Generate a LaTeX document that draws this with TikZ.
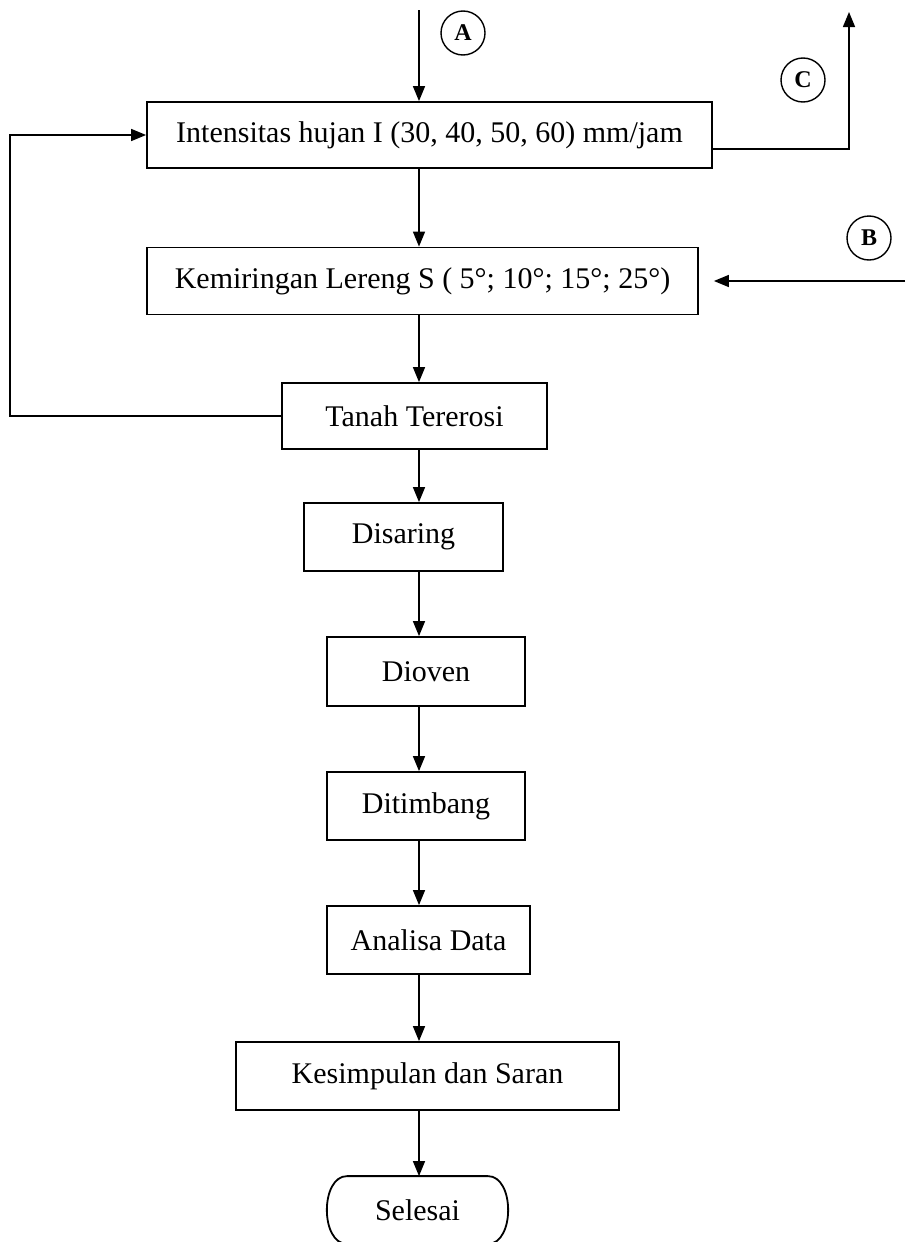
\documentclass[tikz,border=0pt]{standalone}
\usepackage{fontspec}
\setmainfont{Liberation Serif}
\usetikzlibrary{arrows.meta}

\begin{document}
\begin{tikzpicture}[x=1pt,y=-1pt,
    >={Triangle[length=15pt,width=12pt]},
    box/.style={draw,line width=1.8pt,inner sep=0pt,font=\fontsize{30}{36}\selectfont},
    term/.style={box,draw=none},
    letter/.style={draw,circle,line width=1.4pt,minimum size=44pt,inner sep=0pt,font=\fontsize{24}{28}\selectfont\bfseries},
    flow/.style={->,line width=1.5pt}]
    \useasboundingbox (0,0) rectangle (905,1242);
    % axis of the arrows and free ends
    \coordinate (ax) at (419,0);
    \coordinate (inA) at (419,10);
    \coordinate (outC) at (849,12);
    \coordinate (inB) at (905,281);
    \coordinate (fb) at (10,0);
    % boxes
    \node[box,minimum width=565pt,minimum height=66pt] (intensitas) at (429.5,135) {Intensitas hujan I (30, 40, 50, 60) mm/jam};
    \node[box,minimum width=551pt,minimum height=67pt] (lereng) at (422.5,281) {Kemiringan Lereng S ( 5°; 10°; 15°; 25°)};
    \node[box,minimum width=265pt,minimum height=66pt] (tanah) at (414.5,416) {Tanah Tererosi};
    \node[box,minimum width=199pt,minimum height=68pt] (saring) at (403.5,537) {Disaring};
    \node[box,minimum width=198pt,minimum height=69pt] (oven) at (426,671.5) {Dioven};
    \node[box,minimum width=198pt,minimum height=68pt] (timbang) at (426,806) {Ditimbang};
    \node[box,minimum width=203pt,minimum height=68pt] (analisa) at (428.5,940) {Analisa Data};
    \node[box,minimum width=383pt,minimum height=68pt] (simpul) at (427.5,1076) {Kesimpulan dan Saran};
    \node[term,minimum width=179pt,minimum height=66pt] (selesai) at (417.5,1210) {Selesai};
    % terminator outline with curved ends
    \draw[line width=1.8pt] ([xshift=20pt]selesai.north west) -- ([xshift=-20pt]selesai.north east)
        .. controls ([xshift=7pt]selesai.north east) and ([xshift=7pt]selesai.south east) .. ([xshift=-20pt]selesai.south east)
        -- ([xshift=20pt]selesai.south west)
        .. controls ([xshift=-7pt]selesai.south west) and ([xshift=-7pt]selesai.north west) .. cycle;
    % connectors
    \node[letter] (cA) at (463,33) {A};
    \node[letter] (cC) at (803,80) {C};
    \node[letter] (cB) at (869,238) {B};
    \draw[flow] (inA) -- (intensitas.north -| ax);
    \draw[flow] ([yshift=-14pt]intensitas.east) -| (outC);
    \draw[flow,shorten >=15pt] (inB) -- (lereng.east |- inB);
    \draw[flow] (intensitas.south -| ax) -- (lereng.north -| ax);
    \draw[flow] (lereng.south -| ax) -- (tanah.north -| ax);
    \draw[flow] (tanah.west) -- (tanah.west -| fb) |- (intensitas.west);
    \draw[flow] (tanah.south -| ax) -- (saring.north -| ax);
    \draw[flow] (saring.south -| ax) -- (oven.north -| ax);
    \draw[flow] (oven.south -| ax) -- (timbang.north -| ax);
    \draw[flow] (timbang.south -| ax) -- (analisa.north -| ax);
    \draw[flow] (analisa.south -| ax) -- (simpul.north -| ax);
    \draw[flow] (simpul.south -| ax) -- (selesai.north -| ax);
\end{tikzpicture}
\end{document}
